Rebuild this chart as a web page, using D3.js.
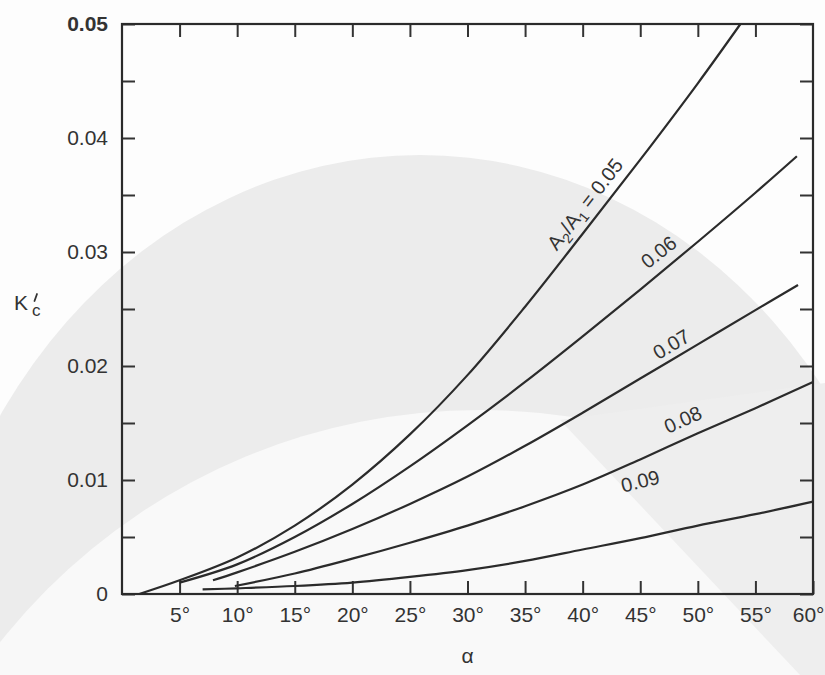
<!DOCTYPE html>
<html>
<head>
<meta charset="utf-8">
<script src="https://cdn.jsdelivr.net/npm/d3@7"></script>
<style>
  body { margin: 0; background: #fdfdfd; }
  svg { display: block; font-family: "Liberation Sans", Arial, sans-serif; }
  .tick text { fill: #333; font-size: 21px; }
  .tick line { stroke: #333; stroke-width: 2; }
  .curve { fill: none; stroke: #2b2b2b; stroke-width: 2.2; }
  .clabel { fill: #333; font-size: 20px; }
</style>
</head>
<body>
<svg id="chart" width="825" height="675"></svg>
<script>
// tick values / labels
const alphaTicks = [5, 10, 15, 20, 25, 30, 35, 40, 45, 50, 55, 60];
const kTicks = [0, 0.005, 0.01, 0.015, 0.02, 0.025, 0.03, 0.035, 0.04, 0.045, 0.05];
const kTickLabels = ["0", "", "0.01", "", "0.02", "", "0.03", "", "0.04", "", "0.05"];

// curves, A2/A1 = 0.05 ... 0.09  (alpha in degrees, K'c)
const alpha05 = [1.5, 5, 10, 15, 20, 25, 30, 35, 40, 45, 50, 53.7];
const k05 = [0, 0.0012, 0.0032, 0.0060, 0.0096, 0.0140, 0.0192, 0.0252, 0.0316, 0.0381, 0.0448, 0.0500];

const alpha06 = [5, 10, 15, 20, 25, 30, 35, 40, 45, 50, 55, 58.6];
const k06 = [0.0010, 0.0026, 0.0050, 0.0079, 0.0112, 0.0148, 0.0186, 0.0226, 0.0267, 0.0309, 0.0352, 0.0384];

const alpha07 = [7.9, 10, 15, 20, 25, 30, 35, 40, 45, 50, 55, 58.7];
const k07 = [0.0012, 0.0019, 0.0037, 0.0057, 0.0079, 0.0103, 0.0130, 0.0159, 0.0189, 0.0219, 0.0249, 0.0271];

const alpha08 = [9.8, 15, 20, 25, 30, 35, 40, 45, 50, 55, 60];
const k08 = [0.0007, 0.0018, 0.0031, 0.0045, 0.0060, 0.0077, 0.0096, 0.0118, 0.0141, 0.0163, 0.0186];

const alpha09 = [7, 10, 15, 20, 25, 30, 35, 40, 45, 50, 55, 60];
const k09 = [0.0004, 0.0005, 0.0007, 0.0010, 0.0015, 0.0021, 0.0029, 0.0039, 0.0049, 0.0060, 0.0070, 0.0081];

const curveLabels = ["0.05", "0.06", "0.07", "0.08", "0.09"];
// where the curve labels sit, in data units
const labelAlpha = [40.2, 46.6, 47.7, 48.7, 45.0];
const labelK = [0.0342, 0.0300, 0.0219, 0.0153, 0.0099];
const labelAngle = [-52, -38, -31, -24, -14];

const series = [
  d3.zip(alpha05, k05),
  d3.zip(alpha06, k06),
  d3.zip(alpha07, k07),
  d3.zip(alpha08, k08),
  d3.zip(alpha09, k09)
];

const margin = { top: 24, right: 12, bottom: 81, left: 122 };
const W = 825, H = 675;

const svg = d3.select("#chart");

// faint scanned watermark in the background
svg.append("ellipse")
  .attr("cx", 420).attr("cy", 725).attr("rx", 500).attr("ry", 570)
  .attr("fill", "#ececec");
svg.append("circle")
  .attr("cx", 480).attr("cy", 1022).attr("r", 612)
  .attr("fill", "#f9f9f9");
svg.append("path")
  .attr("d", "M560,420 L825,383 L825,675 L800,675 Z")
  .attr("fill", "#eeeeee");

const x = d3.scaleLinear().domain([0, 60]).range([margin.left, W - margin.right]);
const y = d3.scaleLinear().domain([0, 0.05]).range([H - margin.bottom, margin.top]);

// axes with inward ticks
svg.append("g")
  .attr("transform", `translate(0,${y(0)})`)
  .call(d3.axisBottom(x).tickValues(alphaTicks).tickSizeInner(-13).tickSizeOuter(0)
    .tickPadding(13).tickFormat(d => d + "°"))
  .call(g => g.select(".domain").remove())
  // last label sits on the page edge, keep it inside
  .call(g => g.selectAll(".tick text").filter(d => d === 60).attr("text-anchor", "end").attr("dx", 11));

svg.append("g")
  .attr("transform", `translate(0,${y(0.05)})`)
  .call(d3.axisTop(x).tickValues(alphaTicks.slice(0, -1)).tickSizeInner(-13).tickSizeOuter(0).tickFormat(""))
  .call(g => g.select(".domain").remove());

svg.append("g")
  .attr("transform", `translate(${x(0)},0)`)
  .call(d3.axisLeft(y).tickValues(kTicks).tickSizeInner(-13).tickSizeOuter(0)
    .tickPadding(14).tickFormat((d, i) => kTickLabels[i]))
  .call(g => g.select(".domain").remove())
  .call(g => g.selectAll(".tick text").filter(d => d === 0.05).attr("font-weight", "bold"));

svg.append("g")
  .attr("transform", `translate(${x(60)},0)`)
  .call(d3.axisRight(y).tickValues(kTicks).tickSizeInner(-13).tickSizeOuter(0).tickFormat(""))
  .call(g => g.select(".domain").remove());

// frame
svg.append("rect")
  .attr("x", x(0)).attr("y", y(0.05))
  .attr("width", x(60) - x(0)).attr("height", y(0) - y(0.05))
  .attr("fill", "none").attr("stroke", "#2b2b2b").attr("stroke-width", 2.2);

// curves
const line = d3.line()
  .x(d => x(d[0]))
  .y(d => y(d[1]))
  .curve(d3.curveCatmullRom.alpha(0.5));

svg.selectAll(".curve")
  .data(series)
  .enter()
  .append("path")
  .attr("class", "curve")
  .attr("d", line);

// curve labels
curveLabels.forEach((lab, i) => {
  const t = svg.append("text")
    .attr("class", "clabel")
    .attr("text-anchor", "middle")
    .attr("transform", `translate(${x(labelAlpha[i])},${y(labelK[i])}) rotate(${labelAngle[i]})`)
    .attr("y", 7);
  if (i === 0) {
    t.append("tspan").text("A");
    t.append("tspan").attr("font-size", 14).attr("dy", 5).text("2");
    t.append("tspan").attr("dy", -5).text("/A");
    t.append("tspan").attr("font-size", 14).attr("dy", 5).text("1");
    t.append("tspan").attr("dy", -5).text(" = " + lab);
  } else {
    t.text(lab);
  }
});

// axis titles: K'c (prime drawn as a small stroke)
const ky = svg.append("text").attr("fill", "#333").attr("font-size", 21);
ky.append("tspan").attr("x", 14).attr("y", 310).text("K");
ky.append("tspan").attr("x", 32).attr("y", 316).attr("font-size", 17).text("c");
svg.append("path")
  .attr("d", "M37,294 L34.5,301")
  .attr("stroke", "#333").attr("stroke-width", 1.8).attr("stroke-linecap", "round");

svg.append("text")
  .attr("x", x(30)).attr("y", 663)
  .attr("text-anchor", "middle")
  .attr("fill", "#333")
  .attr("font-size", 21)
  .text("α");
</script>
</body>
</html>
